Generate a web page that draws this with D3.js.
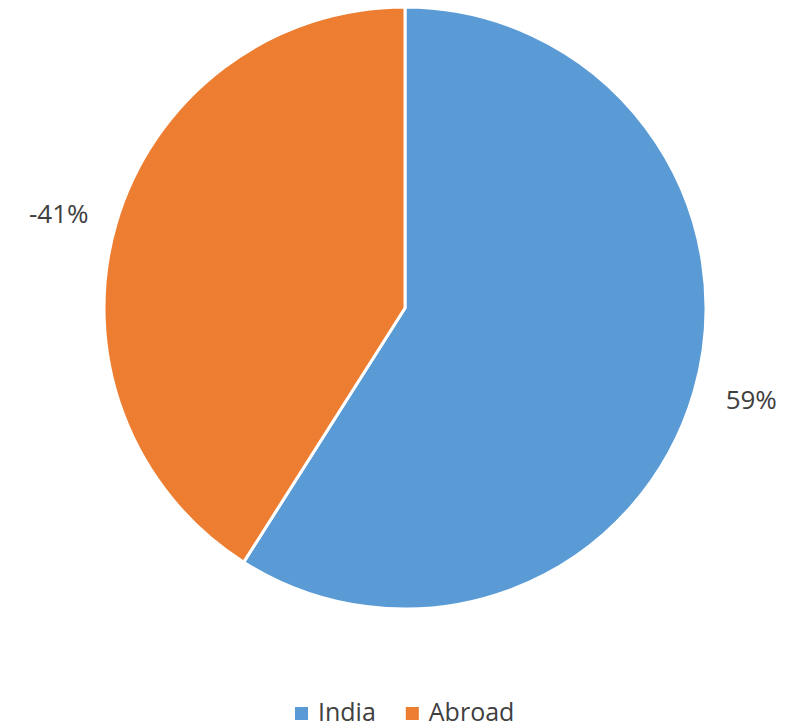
<!DOCTYPE html>
<html><head><meta charset="utf-8">
<script src="https://cdn.jsdelivr.net/npm/d3@7"></script>
<style>body{margin:0;background:#fff}svg text{font-family:"Open Sans",sans-serif;fill:#404040}</style>
</head><body><svg id="c" width="790" height="728"></svg>
<script>
const categories = ["India", "Abroad"];
const values = [59, 41];
const labels = ["59%", "-41%"];
const colors = ["#5B9BD5", "#ED7D31"];

const svg = d3.select("#c");
const cx = 405, cy = 308, r = 301;
const pie = d3.pie().sort(null).value(d => d)(values);
const arc = d3.arc().innerRadius(0).outerRadius(r);
const g = svg.append("g").attr("transform", `translate(${cx},${cy})`);
g.selectAll("path").data(pie).join("path")
  .attr("d", arc).attr("fill", (d, i) => colors[i])
  .attr("stroke", "#fff").attr("stroke-width", 3).attr("stroke-linejoin", "round");

const labelArc = d3.arc().innerRadius(r + 56).outerRadius(r + 56);
g.selectAll("text.lbl").data(pie).join("text").attr("class", "lbl")
  .attr("x", d => labelArc.centroid(d)[0] * 1.01)
  .attr("y", d => labelArc.centroid(d)[1] * 0.93 - 2)
  .attr("text-anchor", "middle").attr("dominant-baseline", "central")
  .attr("font-size", 26)
  .text((d, i) => labels[i]);

const leg = svg.append("g").attr("transform", "translate(295,721)");
let x = 0;
categories.forEach((c, i) => {
  leg.append("rect").attr("x", x).attr("y", -14).attr("width", 13).attr("height", 13).attr("fill", colors[i]);
  const t = leg.append("text").attr("x", x + 23).attr("y", 0)
    .attr("font-size", 25).text(c);
  x += 23 + t.node().getComputedTextLength() + 30;
});
</script></body></html>
